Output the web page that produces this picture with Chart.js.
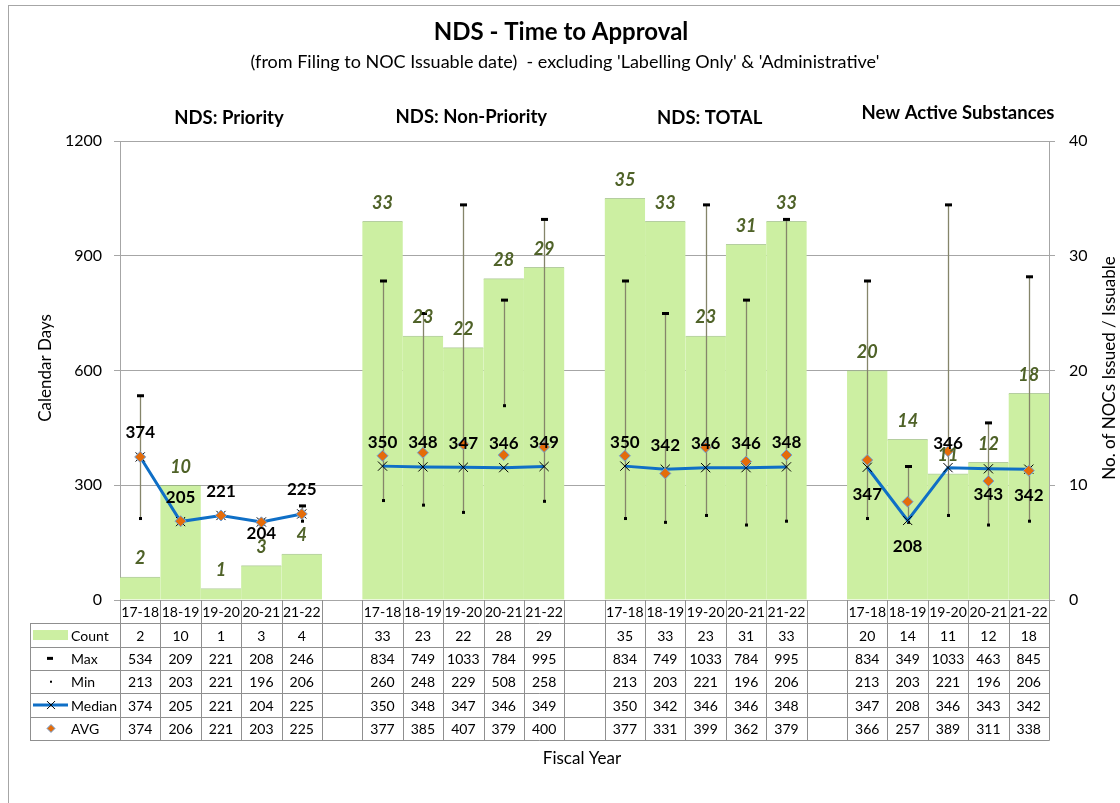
<!DOCTYPE html>
<html>
<head>
<meta charset="utf-8">
<script src="https://cdn.jsdelivr.net/npm/chart.js@4.4.1/dist/chart.umd.min.js"></script>
<style>
  html, body { margin: 0; padding: 0; background: #fff; }
  canvas { display: block; }
</style>
</head>
<body>
<canvas id="chart" width="1120" height="803"></canvas>
<script>
// data, one inner list per panel
const YEARS = ["17-18", "18-19", "19-20", "20-21", "21-22"];
const PANELS = ["NDS: Priority", "NDS: Non-Priority", "NDS: TOTAL", "New Active Substances"];
const COUNT  = [[2, 10, 1, 3, 4], [33, 23, 22, 28, 29], [35, 33, 23, 31, 33], [20, 14, 11, 12, 18]];
const MAX    = [[534, 209, 221, 208, 246], [834, 749, 1033, 784, 995], [834, 749, 1033, 784, 995], [834, 349, 1033, 463, 845]];
const MIN    = [[213, 203, 221, 196, 206], [260, 248, 229, 508, 258], [213, 203, 221, 196, 206], [213, 203, 221, 196, 206]];
const MEDIAN = [[374, 205, 221, 204, 225], [350, 348, 347, 346, 349], [350, 342, 346, 346, 348], [347, 208, 346, 343, 342]];
const AVG    = [[374, 206, 221, 203, 225], [377, 385, 407, 379, 400], [377, 331, 399, 362, 379], [366, 257, 389, 311, 338]];
const DAY_TICKS = [0, 300, 600, 900, 1200];
const COUNT_TICKS = [0, 10, 20, 30, 40];

const FONT = 'Lato, "Open Sans", sans-serif';
const GREEN = "#ccefa2";
const BLUE = "#0f6fc6";
const ORANGE = "#e46c0a";
const GRID = "#a6a6a6";

// panels side by side, one empty column between them
function flatten(groups) {
  const out = [];
  groups.forEach((g, gi) => {
    if (gi > 0) out.push(null);
    out.push(...g);
  });
  return out;
}

const labels = flatten(PANELS.map(() => YEARS)).map(l => l ?? "");
const countF = flatten(COUNT);
const maxF = flatten(MAX);
const minF = flatten(MIN);
const medianF = flatten(MEDIAN);
const avgF = flatten(AVG);

// median labels that sit below the point (index -> offset in px)
const MEDIAN_LABEL_DY = { 3: 12, 18: 27, 19: 26, 21: 26, 22: 26 };

function crisp(v) { return Math.round(v) + 0.5; }

function drawCross(ctx, x, y, r) {
  ctx.save();
  ctx.strokeStyle = "#000";
  ctx.lineWidth = 1;
  ctx.beginPath();
  ctx.moveTo(x - r, y - r); ctx.lineTo(x + r, y + r);
  ctx.moveTo(x + r, y - r); ctx.lineTo(x - r, y + r);
  ctx.stroke();
  ctx.restore();
}

function drawDiamond(ctx, x, y, r) {
  ctx.save();
  ctx.fillStyle = ORANGE;
  ctx.strokeStyle = "#6fa0d8";
  ctx.lineWidth = 1;
  ctx.beginPath();
  ctx.moveTo(x, y - r); ctx.lineTo(x + r, y); ctx.lineTo(x, y + r); ctx.lineTo(x - r, y);
  ctx.closePath();
  ctx.fill();
  ctx.stroke();
  ctx.restore();
}

const decorations = {
  id: "decorations",
  beforeDraw(chart) {
    const ctx = chart.ctx;
    ctx.save();
    ctx.fillStyle = "#fff";
    ctx.fillRect(0, 0, chart.width, chart.height);
    ctx.strokeStyle = GRID;
    ctx.lineWidth = 1;
    ctx.strokeRect(8.5, 5.5, chart.width + 20, chart.height + 20);
    ctx.restore();
  },
  afterDatasetDraw(chart, args) {
    if (args.index !== 0) return;
    // min / max whiskers over the count bars
    const ctx = chart.ctx, xs = chart.scales.x, ys = chart.scales.y;
    ctx.save();
    maxF.forEach((mx, i) => {
      if (mx == null) return;
      const x = Math.round(xs.getPixelForValue(i)) + 0.5;
      const yt = ys.getPixelForValue(mx);
      const yb = ys.getPixelForValue(minF[i]);
      ctx.strokeStyle = "#85856a";
      ctx.lineWidth = 1.3;
      ctx.beginPath();
      ctx.moveTo(x, yt); ctx.lineTo(x, yb);
      ctx.stroke();
      ctx.fillStyle = "#000";
      ctx.fillRect(x - 3.5, yt - 1.5, 7, 3);
      ctx.fillRect(x - 1.5, yb - 1.5, 3, 3);
    });
    ctx.restore();
  },
  afterDraw(chart) {
    const ctx = chart.ctx, area = chart.chartArea;
    const xs = chart.scales.x, ys = chart.scales.y, yc = chart.scales.y1;
    ctx.save();
    ctx.textAlign = "center";
    ctx.textBaseline = "middle";
    ctx.fillStyle = "#000";

    // titles
    ctx.font = `bold 24px ${FONT}`;
    ctx.fillText("NDS - Time to Approval", 561, 32);
    ctx.font = `18px ${FONT}`;
    ctx.fillText("(from Filing to NOC Issuable date)  - excluding 'Labelling Only' & 'Administrative'", 565, 62);

    ctx.font = `bold 18.5px ${FONT}`;
    const panelY = [118, 117, 118, 113];
    const panelDx = [8, 8, 4, 10];
    PANELS.forEach((p, gi) => {
      const cx = xs.getPixelForValue(gi * 6 + 2) + panelDx[gi];
      ctx.fillText(p, cx, panelY[gi]);
    });

    // axis titles
    ctx.font = `17px ${FONT}`;
    ctx.save();
    ctx.translate(46, 368);
    ctx.rotate(-Math.PI / 2);
    ctx.fillText("Calendar Days", 0, 0);
    ctx.restore();
    ctx.save();
    ctx.translate(1110, 368);
    ctx.rotate(-Math.PI / 2);
    ctx.fillText("No. of NOCs Issued / Issuable", 0, 0);
    ctx.restore();

    ctx.font = `17px ${FONT}`;
    ctx.fillText("Fiscal Year", 582, 759);

    // count labels above bars
    ctx.font = `italic bold 18px ${FONT}`;
    ctx.fillStyle = "#4f6228";
    countF.forEach((c, i) => {
      if (c == null) return;
      ctx.fillText(String(c), xs.getPixelForValue(i), yc.getPixelForValue(c) - 18.5);
    });

    // median labels
    ctx.font = `bold 17px ${FONT}`;
    ctx.fillStyle = "#000";
    medianF.forEach((m, i) => {
      if (m == null) return;
      const dy = MEDIAN_LABEL_DY[i] ?? -24;
      ctx.fillText(String(m), xs.getPixelForValue(i), ys.getPixelForValue(m) + dy);
    });

    // data table
    const top = area.bottom;
    const rowH = 23.35;
    const colW = (area.right - area.left) / labels.length;
    const legLeft = 30;
    ctx.strokeStyle = "#8f8f8f";
    ctx.lineWidth = 1;
    ctx.font = `14px ${FONT}`;

    const line = (x1, y1, x2, y2) => {
      ctx.beginPath();
      ctx.moveTo(x1, y1); ctx.lineTo(x2, y2);
      ctx.stroke();
    };

    const rows = [
      { name: "Count", data: countF },
      { name: "Max", data: maxF },
      { name: "Min", data: minF },
      { name: "Median", data: medianF },
      { name: "AVG", data: avgF }
    ];
    const bottom = top + rowH * (rows.length + 1);

    for (let r = 1; r <= rows.length + 1; r++) {
      const y = crisp(top + rowH * r);
      line(legLeft, y, crisp(area.right), y);
    }
    for (let i = 0; i <= labels.length; i++) {
      const x = crisp(area.left + colW * i);
      line(x, top, x, crisp(bottom));
    }
    line(crisp(legLeft), crisp(top + rowH), crisp(legLeft), crisp(bottom));

    labels.forEach((l, i) => {
      ctx.fillText(l, area.left + colW * (i + 0.5), top + rowH / 2 + 1);
    });

    rows.forEach((row, r) => {
      const cy = top + rowH * (r + 1.5) + 1;
      row.data.forEach((v, i) => {
        if (v == null) return;
        ctx.fillText(String(v), area.left + colW * (i + 0.5), cy);
      });
      ctx.textAlign = "left";
      ctx.fillText(row.name, 71, cy);
      ctx.textAlign = "center";
    });

    // legend keys
    let cy = top + rowH * 1.5;
    ctx.fillStyle = GREEN;
    ctx.fillRect(33, cy - 5, 35, 10);
    cy = top + rowH * 2.5;
    ctx.fillStyle = "#000";
    ctx.fillRect(47, cy - 1.5, 6, 3);
    cy = top + rowH * 3.5;
    ctx.fillRect(50, cy - 1, 2, 2);
    cy = top + rowH * 4.5;
    ctx.strokeStyle = BLUE;
    ctx.lineWidth = 3;
    line(33, cy, 68, cy);
    drawCross(ctx, 51, cy, 4);
    cy = top + rowH * 5.5;
    drawDiamond(ctx, 51, cy, 4);

    ctx.restore();
  }
};

new Chart(document.getElementById("chart"), {
  type: "bar",
  data: {
    labels,
    datasets: [
      {
        label: "Count",
        data: countF,
        yAxisID: "y1",
        backgroundColor: GREEN,
        borderColor: "rgba(150,185,120,0.7)",
        borderWidth: { top: 1, left: 0, right: 0, bottom: 0 },
        barPercentage: 1,
        categoryPercentage: 1,
        order: 3
      },
      {
        label: "Median",
        type: "line",
        data: medianF,
        yAxisID: "y",
        borderColor: BLUE,
        borderWidth: 3,
        pointStyle: "crossRot",
        pointRadius: 6.5,
        pointBorderColor: "#000",
        pointBorderWidth: 1,
        spanGaps: false,
        order: 2
      },
      {
        label: "AVG",
        type: "line",
        data: avgF,
        yAxisID: "y",
        showLine: false,
        pointStyle: "rectRot",
        pointRadius: 5.5,
        pointBackgroundColor: ORANGE,
        pointBorderColor: "#6fa0d8",
        pointBorderWidth: 1,
        order: 1
      }
    ]
  },
  options: {
    responsive: false,
    animation: false,
    events: [],
    layout: { padding: { top: 141, bottom: 203, left: 0, right: 0 } },
    plugins: {
      legend: { display: false },
      tooltip: { enabled: false },
      title: { display: false }
    },
    scales: {
      x: { display: false },
      y: {
        position: "left",
        min: 0,
        max: 1200,
        afterBuildTicks: s => { s.ticks = DAY_TICKS.map(v => ({ value: v })); },
        afterFit: s => { s.width = 120; },
        ticks: { color: "#000", font: { family: FONT, size: 16 }, padding: 12, callback: v => String(v) },
        grid: { color: GRID, lineWidth: 1, tickLength: 6 },
        border: { color: GRID }
      },
      y1: {
        position: "right",
        min: 0,
        max: 40,
        afterBuildTicks: s => { s.ticks = COUNT_TICKS.map(v => ({ value: v })); },
        afterFit: s => { s.width = 71; },
        ticks: { color: "#000", font: { family: FONT, size: 16 }, padding: 14, callback: v => String(v) },
        grid: { drawOnChartArea: false, color: GRID, tickLength: 6 },
        border: { color: GRID }
      }
    }
  },
  plugins: [decorations]
});
</script>
</body>
</html>
